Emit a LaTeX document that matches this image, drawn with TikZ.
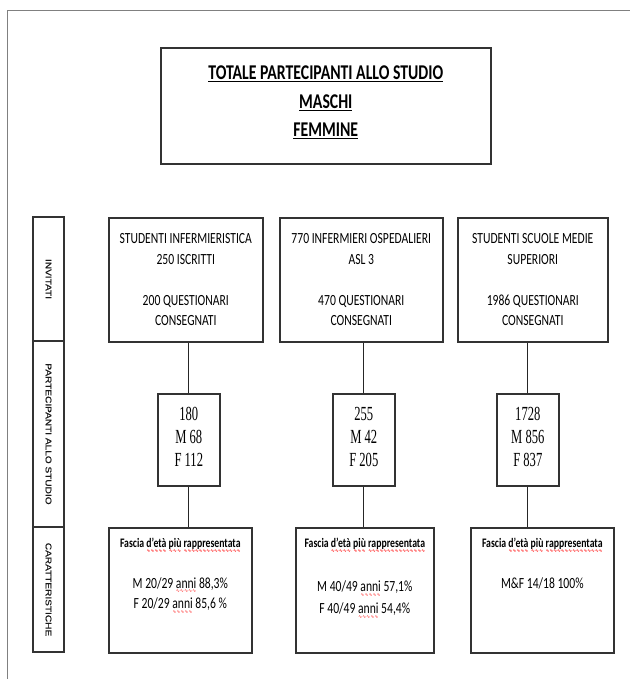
\documentclass[tikz,border=0pt]{standalone}
\usepackage{fontspec}
\setmainfont{Carlito}
\newfontfamily\calibn[FakeStretch=0.75]{Carlito}
\newfontfamily\timesn[FakeStretch=0.63]{Liberation Serif}
\newfontfamily\arialw[FakeStretch=1.2,FakeBold=0.6]{Liberation Sans}
\newfontfamily\djv{DejaVu Sans}
% red wavy line of the spell checker
\newsavebox\spbox
\newcommand\spellerr[1]{\sbox\spbox{#1}\rlap{\raisebox{-4.5pt}[0pt][0pt]{\color{red}\hbox to\wd\spbox{\xleaders\hbox{\djv\fontsize{4.5}{4.5}\selectfont ∿}\hfill}}}\usebox\spbox}

\begin{document}
\begin{tikzpicture}[x=1pt, y=-1pt,
    box/.style={draw=black!80, line width=1.6pt, rectangle, inner sep=0pt, anchor=north west, align=center},
    sidebox/.style={draw=black!80, line width=1.6pt, rectangle, inner sep=0pt, rotate=-90, minimum height=31pt,
        font=\arialw\fontsize{8.4}{10}\selectfont, text=black!90},
    topbox/.style={box, minimum height=124pt, font=\calibn\fontsize{15.5}{20.5}\selectfont},
    numbox/.style={box, minimum width=62pt, minimum height=92pt, text depth=6pt, font=\timesn\fontsize{20}{23}\selectfont},
    botbox/.style={box, minimum height=125pt},
    bottxt/.style={anchor=north, inner sep=0pt, align=center, font=\calibn\fontsize{15.5}{20.5}\selectfont},
    conn/.style={draw=black!85, line width=0.9pt}]
    \useasboundingbox (0,0) rectangle (630,679);
    % page frame
    \draw[black!50, line width=1.5pt] (7.5,679) -- (7.5,10.5) -- (630,10.5);

    % title
    \node[box, minimum width=330pt, minimum height=116pt, text depth=9pt,
        font=\calibn\bfseries\fontsize{21}{28.5}\selectfont] (tot) at (160,47)
        {\underline{TOTALE PARTECIPANTI ALLO STUDIO}\\\underline{MASCHI}\\\underline{FEMMINE}};

    % row labels
    \node[sidebox, minimum width=124pt] (sinv) at (48.5,279) {INVITATI};
    \node[sidebox, minimum width=186pt] (spar) at (48.5,434) {PARTECIPANTI ALLO STUDIO};
    \node[sidebox, minimum width=125pt] (scar) at (48.5,589.5) {CARATTERISTICHE};

    % invitati
    \node[topbox, minimum width=154pt] (inv1) at (108,217)
        {STUDENTI INFERMIERISTICA\\250 ISCRITTI\\[20.5pt]200 QUESTIONARI\\CONSEGNATI};
    \node[topbox, minimum width=163pt] (inv2) at (279,217)
        {770 INFERMIERI OSPEDALIERI\\ASL 3\\[20.5pt]470 QUESTIONARI\\CONSEGNATI};
    \node[topbox, minimum width=150pt] (inv3) at (457,217)
        {STUDENTI SCUOLE MEDIE\\SUPERIORI\\[20.5pt]1986 QUESTIONARI\\CONSEGNATI};

    % partecipanti
    \node[numbox] (par1) at (157,393) {180\\M 68\\F 112};
    \node[numbox] (par2) at (332,393) {255\\M 42\\F 205};
    \node[numbox] (par3) at (496,393) {1728\\M 856\\F 837};

    % caratteristiche
    \node[botbox, minimum width=143pt] (car1) at (108,527) {};
    \node[botbox, minimum width=138pt] (car2) at (295,527) {};
    \node[botbox, minimum width=143pt] (car3) at (470,527) {};
    \node[bottxt] (txt1) at ([yshift=-11pt]car1.north)
        {{\bfseries\fontsize{13}{20}\selectfont Fascia \spellerr{d’età} \spellerr{più} \spellerr{rappresentata}}\\[20pt]
         M 20/29 \spellerr{anni} 88,3\%\\F 20/29 \spellerr{anni} 85,6 \%};
    \node[bottxt, font=\calibn\fontsize{15.5}{22}\selectfont] (txt2) at ([yshift=-11pt]car2.north)
        {{\bfseries\fontsize{13}{20}\selectfont Fascia \spellerr{d’età} \spellerr{più} \spellerr{rappresentata}}\\[22pt]
         M 40/49 \spellerr{anni} 57,1\%\\F 40/49 \spellerr{anni} 54,4\%};
    \node[bottxt] (txt3) at ([yshift=-11pt]car3.north)
        {{\bfseries\fontsize{13}{20}\selectfont Fascia \spellerr{d’età} \spellerr{più} \spellerr{rappresentata}}\\[20pt]
         M\&F 14/18 100\%};

    % connectors
    \foreach \i in {1,2,3} {
        \draw[conn] (par\i.north) -- (par\i.north |- inv\i.south);
        \draw[conn] (par\i.south) -- (par\i.south |- car\i.north);
    }
\end{tikzpicture}
\end{document}
